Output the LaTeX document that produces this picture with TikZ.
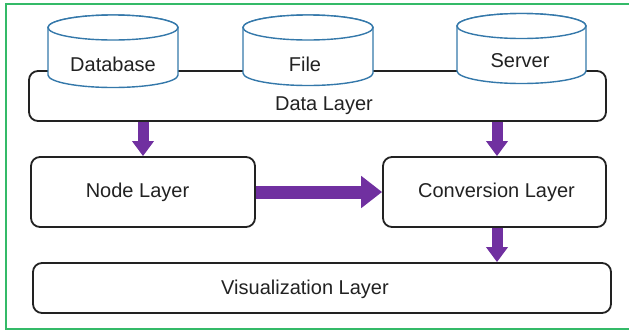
\documentclass[tikz,border=0pt]{standalone}
\usepackage{fontspec}
\setmainfont{Liberation Sans}
\usetikzlibrary{arrows.meta}
\definecolor{frameg}{RGB}{52,186,104}
\definecolor{cylblue}{RGB}{52,120,170}
\definecolor{arrpurple}{RGB}{112,48,160}
\definecolor{txt}{RGB}{34,34,34}
\tikzset{
  lbl/.style={anchor=base, inner sep=0pt, text=txt, font=\fontsize{20}{24}\selectfont},
  layerbox/.style={draw=txt, line width=1.8pt, rounded corners=9pt, fill=white, inner sep=0pt},
  cyl/.style={draw=cylblue, line width=1.4pt, fill=white},
  vflow/.style={draw=arrpurple, line width=11pt, -{Triangle[length=15pt,width=21pt]}},
  hflow/.style={draw=arrpurple, line width=13pt, -{Triangle[length=21pt,width=31pt]}},
}
\begin{document}
\begin{tikzpicture}[x=1pt,y=-1pt]
\useasboundingbox (0,0) rectangle (629,330);
\draw[frameg, line width=2pt] (640,4) -- (6,4) -- (6,329) -- (640,329);

% layer boxes
\node[layerbox, minimum width=577pt, minimum height=50pt] (data) at (317.5,96) {};
\node[layerbox, minimum width=224pt, minimum height=70pt] (nodel) at (143,192) {};
\node[layerbox, minimum width=223pt, minimum height=70pt] (conv) at (494.5,192) {};
\node[layerbox, minimum width=578pt, minimum height=50pt] (vis) at (322,288) {};

% cylinders
\foreach \cx/\rx/\yt/\yb/\nm in {113/65/27.5/75/db, 308/65/27.5/73/fl, 521.5/64.5/26/71/sv}{
  \path[cyl] (\cx-\rx,\yt) -- (\cx-\rx,\yb)
     arc[start angle=180, end angle=0, x radius=\rx, y radius=12.5]
     -- (\cx+\rx,\yt)
     arc[start angle=0, end angle=-180, x radius=\rx, y radius=12.5] -- cycle;
  \draw[cyl] (\cx,\yt) ellipse [x radius=\rx, y radius=12.5];
  \coordinate (\nm) at (\cx,\yt);
}

% labels
\node[lbl] (tdb) at (113,71) {Database};
\node[lbl] (tfl) at (305,71) {File};
\node[lbl] (tsv) at (520,67) {Server};
\node[lbl] (tdata) at (324,110) {Data Layer};
\node[lbl] (tnode) at (137.5,197) {Node Layer};
\node[lbl] (tconv) at (496.5,197) {Conversion Layer};
\node[lbl] (tvis) at (305,294) {Visualization Layer};

% arrows
\draw[vflow] (data.south -| 143,0) -- (nodel.north -| 143,0);
\draw[vflow] (data.south -| 497,0) -- (conv.north -| 497,0);
\draw[vflow] (conv.south -| 497,0) -- (vis.north -| 497,0);
\draw[hflow] (nodel.east) -- (conv.west);
\end{tikzpicture}
\end{document}
